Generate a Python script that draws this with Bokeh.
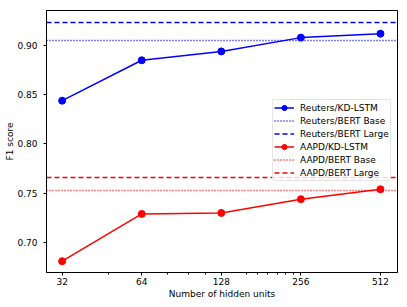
from bokeh.plotting import figure
from bokeh.models import Range1d, FixedTicker, NumeralTickFormatter, Legend, LegendItem
from bokeh.core.properties import value
from bokeh.embed import file_html
from bokeh.resources import INLINE

hidden_units = [32, 64, 128, 256, 512]
minor_units = [48, 80, 96, 112, 160, 176, 192, 208, 224, 240]
reuters_kd = [0.844, 0.885, 0.894, 0.908, 0.912]
aapd_kd = [0.681, 0.729, 0.730, 0.744, 0.754]
reuters_bert_base = 0.905
reuters_bert_large = 0.923
aapd_bert_base = 0.753
aapd_bert_large = 0.766
y_ticks = [0.70, 0.75, 0.80, 0.85, 0.90]

FONT = "DejaVu Sans"
FS = "9px"
BLUE = "#0000ff"
RED = "#ff0000"
DOT = "1 2"
DASH = "5 3"
LW = 1.5

p = figure(width=407, height=307, x_axis_type="log",
           x_range=Range1d(27.92, 593.9), y_range=Range1d(0.66954, 0.93553),
           output_backend="svg", toolbar_location=None,
           min_border_left=46, min_border_right=10, min_border_top=10, min_border_bottom=35)
p.grid.visible = False
p.outline_line_color = "black"
p.outline_line_width = 1
p.background_fill_color = "white"
p.border_fill_color = "white"

p.xaxis.ticker = FixedTicker(ticks=hidden_units, minor_ticks=minor_units)
p.xaxis.formatter = NumeralTickFormatter(format="0")
p.yaxis.ticker = FixedTicker(ticks=y_ticks, minor_ticks=[])
p.yaxis.formatter = NumeralTickFormatter(format="0.00")

for ax in (p.xaxis[0], p.yaxis[0]):
    ax.axis_line_color = "black"
    ax.major_tick_line_color = "black"
    ax.minor_tick_line_color = "black"
    ax.major_tick_in = 0
    ax.major_tick_out = 3
    ax.minor_tick_in = 0
    ax.minor_tick_out = 2
    ax.major_label_text_font = FONT
    ax.major_label_text_font_size = FS
    ax.major_label_text_color = "black"
    ax.axis_label_text_font = FONT
    ax.axis_label_text_font_size = FS
    ax.axis_label_text_font_style = "normal"
    ax.axis_label_text_color = "black"

p.xaxis.axis_label = "Number of hidden units"
p.yaxis.axis_label = "F1 score"
p.xaxis.major_label_standoff = 2
p.xaxis.axis_label_standoff = 1
p.yaxis.major_label_standoff = 6
p.yaxis.axis_label_standoff = -1

r1 = p.line(hidden_units, reuters_kd, line_color=BLUE, line_width=LW)
r1c = p.scatter(hidden_units, reuters_kd, size=7, fill_color=BLUE, line_color=BLUE)
r2 = p.hspan(y=[reuters_bert_base], line_color=BLUE, line_width=LW, line_dash=value(DOT))
r3 = p.hspan(y=[reuters_bert_large], line_color=BLUE, line_width=LW, line_dash=value(DASH))
r4 = p.line(hidden_units, aapd_kd, line_color=RED, line_width=LW)
r4c = p.scatter(hidden_units, aapd_kd, size=7, fill_color=RED, line_color=RED)
r5 = p.hspan(y=[aapd_bert_base], line_color=RED, line_width=LW, line_dash=value(DOT))
r6 = p.hspan(y=[aapd_bert_large], line_color=RED, line_width=LW, line_dash=value(DASH))

legend = Legend(items=[
    LegendItem(label="Reuters/KD-LSTM", renderers=[r1, r1c]),
    LegendItem(label="Reuters/BERT Base", renderers=[r2]),
    LegendItem(label="Reuters/BERT Large", renderers=[r3]),
    LegendItem(label="AAPD/KD-LSTM", renderers=[r4, r4c]),
    LegendItem(label="AAPD/BERT Base", renderers=[r5]),
    LegendItem(label="AAPD/BERT Large", renderers=[r6]),
], location=(226, 91))
legend.label_text_font = FONT
legend.label_text_font_size = FS
legend.label_text_color = "black"
legend.label_height = 13
legend.glyph_height = 13
legend.glyph_width = 20
legend.label_standoff = 6
legend.spacing = 0
legend.padding = 1
legend.margin = 0
legend.border_line_color = "#cccccc"
legend.border_line_width = 1
legend.border_radius = 2
legend.background_fill_alpha = 0.8
p.add_layout(legend)

open("out.html", "w").write(file_html(p, INLINE))
